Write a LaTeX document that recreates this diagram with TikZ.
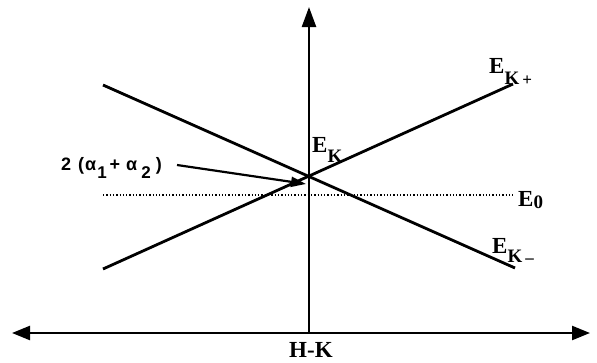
\documentclass[tikz,border=0pt]{standalone}
\usepackage{fontspec}
\setmainfont{Liberation Serif}
\newfontfamily\lblsans{Liberation Sans}
\usetikzlibrary{arrows.meta}
\newcommand{\lowsub}[2]{\raisebox{#1}{\fontsize{19}{19}\selectfont #2}}
\newcommand{\signmark}[1]{\raisebox{-1.5pt}{\fontsize{17}{17}\selectfont #1}}
\newcommand{\nsub}[1]{\raisebox{-8pt}{\fontsize{17}{17}\selectfont #1}}
\begin{document}
\begin{tikzpicture}[x=1pt,y=-1pt,
  axis/.style={line width=2.4pt,{Triangle[length=18pt,width=14pt]}-{Triangle[length=18pt,width=14pt]}},
  band/.style={line width=2.8pt},
  lvl/.style={line width=1.3pt,dotted},
  lbl/.style={font=\fontsize{23}{26}\selectfont\bfseries,inner sep=0pt,anchor=base west},
  note/.style={font=\lblsans\fontsize{18}{21}\selectfont\bfseries,inner sep=0pt,anchor=base west},
  pointer/.style={line width=2.2pt,-{Triangle[length=15pt,width=10pt]}}]
\useasboundingbox (0,0) rectangle (597,362);
% axes
\coordinate (xl) at (12,333);
\coordinate (xr) at (590,333);
\coordinate (yb) at (309,333);
\coordinate (yt) at (309,7);
\draw[axis] (xl) -- (xr);
\draw[line width=2.4pt,-{Triangle[length=20pt,width=14pt]}] (yb) -- (yt);
% bands
\coordinate (a1) at (103,85);
\coordinate (a2) at (515,268);
\coordinate (b1) at (103,269);
\coordinate (b2) at (513,84);
\draw[band] (a1) -- (a2);
\draw[band] (b1) -- (b2);
% E0 level
\coordinate (e1) at (103,195);
\coordinate (e2) at (513,195);
\draw[lvl] (e1) -- (e2);
% labels
\node[lbl] (ek) at (312,152) {E\lowsub{-10pt}{K}};
\node[lbl] (ekp) at (489,73) {E\lowsub{-11pt}{K\,\signmark{+}}};
\node[lbl] (e0) at (518,206) {E\lowsub{-2pt}{0}};
\node[lbl] (ekm) at (492,253) {E\lowsub{-9pt}{K\,\signmark{\raisebox{0.5pt}{--}}}};
\node[lbl] (hk) at (289,357) {H-K};
\node[note] (sum) at (61,170) {2\hspace{7pt}(\hspace{1pt}α\hspace{1pt}\nsub{1}\hspace{3pt}+\hspace{6pt}α\hspace{4pt}\nsub{2}\hspace{5pt})};
\coordinate (tip) at (306,184);
\coordinate (ps) at (177,165);
\draw[pointer] (ps) -- (tip);
\end{tikzpicture}
\end{document}
